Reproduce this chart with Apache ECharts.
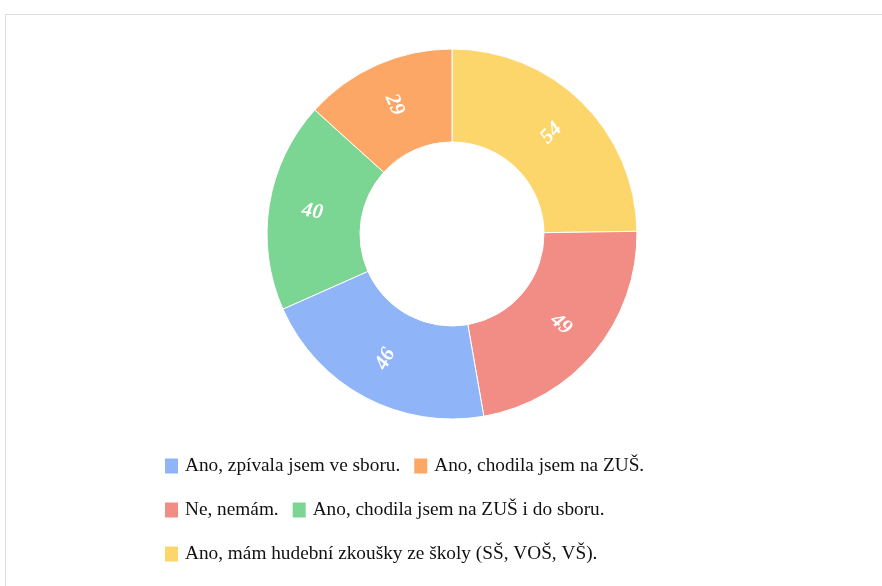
<!DOCTYPE html>
<html>
<head>
<meta charset="utf-8">
<script src="https://cdn.jsdelivr.net/npm/echarts@6/dist/echarts.min.js"></script>
<style>
html, body { margin: 0; padding: 0; background: #fff; }
.frame {
  position: absolute; left: 5px; top: 14px; width: 890px; height: 590px;
  border: 1px solid #dcdcdc; box-sizing: border-box;
}
#chart { position: absolute; left: 0; top: 0; width: 882px; height: 586px; }
</style>
</head>
<body>
<div class="frame"></div>
<div id="chart"></div>
<script>
// slices clockwise from 12 o'clock
var names = [
  'Ano, mám hudební zkoušky ze školy (SŠ, VOŠ, VŠ).',
  'Ne, nemám.',
  'Ano, zpívala jsem ve sboru.',
  'Ano, chodila jsem na ZUŠ i do sboru.',
  'Ano, chodila jsem na ZUŠ.'
];
var values = [54, 49, 46, 40, 29];
var colors = ['#fdd66b', '#f28d85', '#8fb5f8', '#7bd593', '#fda766'];
// legend order
var legendOrder = [
  'Ano, zpívala jsem ve sboru.',
  'Ano, chodila jsem na ZUŠ.',
  'Ne, nemám.',
  'Ano, chodila jsem na ZUŠ i do sboru.',
  'Ano, mám hudební zkoušky ze školy (SŠ, VOŠ, VŠ).'
];

var myChart = echarts.init(document.getElementById('chart'));
var font = '"Liberation Serif", "Times New Roman", serif';

var option = {
  animation: false,
  legend: {
    data: legendOrder,
    left: 160,
    top: 446,
    width: 520,
    orient: 'horizontal',
    icon: 'rect',
    itemWidth: 13,
    itemHeight: 15,
    itemGap: 14,
    itemStyle: { borderWidth: 0 },
    textStyle: {
      fontFamily: font, fontSize: 19.3, color: '#111', lineHeight: 30,
      padding: [0, 0, 0, 2]
    }
  },
  series: [{
    type: 'pie',
    center: [452, 234],
    radius: [92, 185],
    startAngle: 90,
    clockwise: true,
    itemStyle: { borderColor: '#fff', borderWidth: 1 },
    label: {
      show: true,
      position: 'inside',
      rotate: 'radial',
      formatter: '{c}',
      color: '#fff',
      fontFamily: font,
      fontSize: 21,
      fontStyle: 'italic',
      fontWeight: 'bold'
    },
    labelLine: { show: false },
    emphasis: { disabled: true },
    data: names.map(function (n, i) {
      return { name: n, value: values[i], itemStyle: { color: colors[i] } };
    })
  }]
};
myChart.setOption(option);
</script>
</body>
</html>
